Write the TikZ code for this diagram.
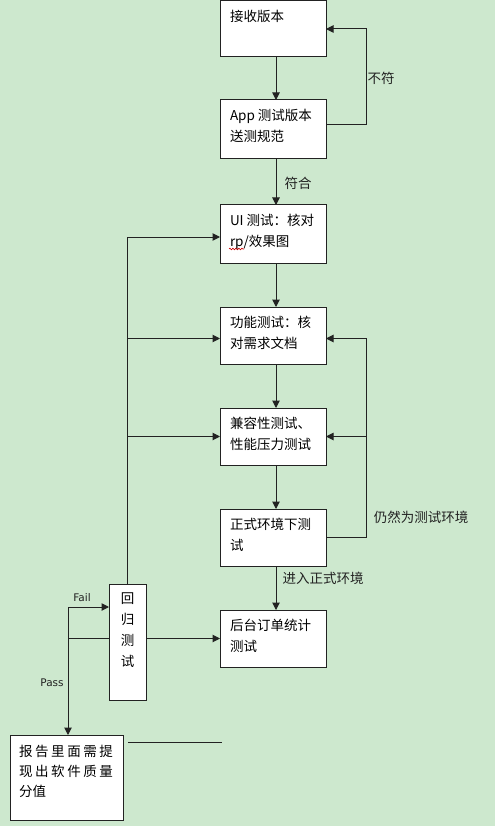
\documentclass[tikz,border=0pt]{standalone}
\usepackage{fontspec}
\setmainfont{Noto Sans CJK SC}
\newfontfamily\latinsans{DejaVu Sans}
\usetikzlibrary{arrows.meta,calc,decorations.pathmorphing}
\definecolor{bg}{RGB}{205,232,206}
\definecolor{lc}{RGB}{34,34,34}
\newcommand\boxtext[3]{\parbox[c][#2][t]{#1}{\fontsize{13.5pt}{21pt}\selectfont\raggedright\vspace*{9.5pt}#3}}
\newcommand\spreadline[1]{\makebox[94pt][s]{#1}}
\begin{document}
\begin{tikzpicture}[x=1pt,y=-1pt,
  stepbox/.style={draw=lc, fill=white, line width=1pt, anchor=north west, inner xsep=10pt, inner ysep=0pt, outer sep=0pt},
  arr/.style={draw=lc, line width=1pt, -{Triangle[length=7.5pt,width=7.5pt]}},
  plain/.style={draw=lc, line width=1pt},
  lbl/.style={font=\fontsize{13.5pt}{16pt}\selectfont, text=lc, inner sep=0pt},
  small/.style={font=\latinsans\fontsize{10.5pt}{12pt}\selectfont, text=lc, inner sep=0pt}]
\fill[bg] (0,0) rectangle (495,826);
\useasboundingbox (0,0) rectangle (495,826);

\node[stepbox] (b1) at (220,1) {\boxtext{86pt}{56pt}{接收版本}};
\node[stepbox] (b2) at (220,100) {\boxtext{86pt}{59pt}{App 测试版本\\送测规范}};
\node[stepbox] (b3) at (220,205) {\boxtext{86pt}{58pt}{UI 测试：核对\\rp/效果图}};
\node[stepbox] (b4) at (220,307) {\boxtext{86pt}{57pt}{功能测试：核\\对需求文档}};
\node[stepbox] (b5) at (220,408) {\boxtext{86pt}{57pt}{兼容性测试、\\性能压力测试}};
\node[stepbox] (b6) at (220,509) {\boxtext{86pt}{57pt}{正式环境下测\\试}};
\node[stepbox] (b7) at (220,610) {\boxtext{86pt}{57pt}{后台订单统计\\测试}};
\node[stepbox, inner xsep=0pt] (reg) at (109,584) {\parbox[c][116pt][t]{37pt}{\fontsize{13.5pt}{21pt}\selectfont\centering\vspace*{8.5pt}回\\归\\测\\试}};
\node[stepbox, inner xsep=9pt] (rep) at (10,735) {\parbox[c][85pt][t]{95pt}{\fontsize{13.5pt}{20pt}\selectfont\vspace*{10pt}\spreadline{报\hfill 告\hfill 里\hfill 面\hfill 需\hfill 提}\\\spreadline{现\hfill 出\hfill 软\hfill 件\hfill 质\hfill 量}\\分值}};

\coordinate (ax) at (276,0);
\coordinate (rx) at (366,0);
\coordinate (fx) at (68,0);
\coordinate (s1) at (128,742);
\coordinate (s2) at (222,742);
\coordinate (sq1) at (229,249);
\coordinate (sq2) at (244,249);

% main column
\draw[arr] (b1.south -| ax) -- (b2.north -| ax);
\draw[arr] (b2.south -| ax) -- (b3.north -| ax);
\draw[arr] (b3.south -| ax) -- (b4.north -| ax);
\draw[arr] (b4.south -| ax) -- (b5.north -| ax);
\draw[arr] (b5.south -| ax) -- (b6.north -| ax);
\draw[arr] (b6.south -| ax) -- (b7.north -| ax);

% top loop
\draw[arr] ([yshift=5pt]b2.east) -| (rx |- b1.east) -- (b1.east);

% right loop
\draw[plain] (b6.east) -- (b6.east -| rx) coordinate (r6);
\draw[arr] (r6) |- ([yshift=-3pt]b4.east);
\draw[arr] (b5.east -| rx) -- (b5.east);

% left trunk
\draw[arr] (reg.north) |- ([yshift=-3pt]b3.west);
\draw[arr] ([yshift=-3pt]b4.west -| reg.north) -- ([yshift=-3pt]b4.west);
\draw[arr] (b5.west -| reg.north) -- (b5.west);

% bottom
\draw[arr] (reg.east |- b7.west) -- (b7.west);
\draw[plain] (reg.west |- b7.west) -- (fx |- b7.west) coordinate (fp);
\draw[arr] (fp) |- ([yshift=35pt]reg.west);
\draw[arr] (fp) -- (fp |- rep.north);
\draw[plain] (s1) -- (s2);

% spell-check squiggle under "rp"
\draw[red!80!black, line width=0.6pt, decorate, decoration={snake, amplitude=0.8pt, segment length=3pt}] (sq1) -- (sq2);

% labels
\node[lbl] (lnf) at (381,78) {不符};
\node[lbl] (lfh) at (298,183) {符合};
\node[lbl] (lrs) at (421,517) {仍然为测试环境};
\node[lbl] (ljr) at (323,578) {进入正式环境};
\node[small] (lfail) at (82,598) {Fail};
\node[small] (lpass) at (52,683) {Pass};
\end{tikzpicture}
\end{document}
